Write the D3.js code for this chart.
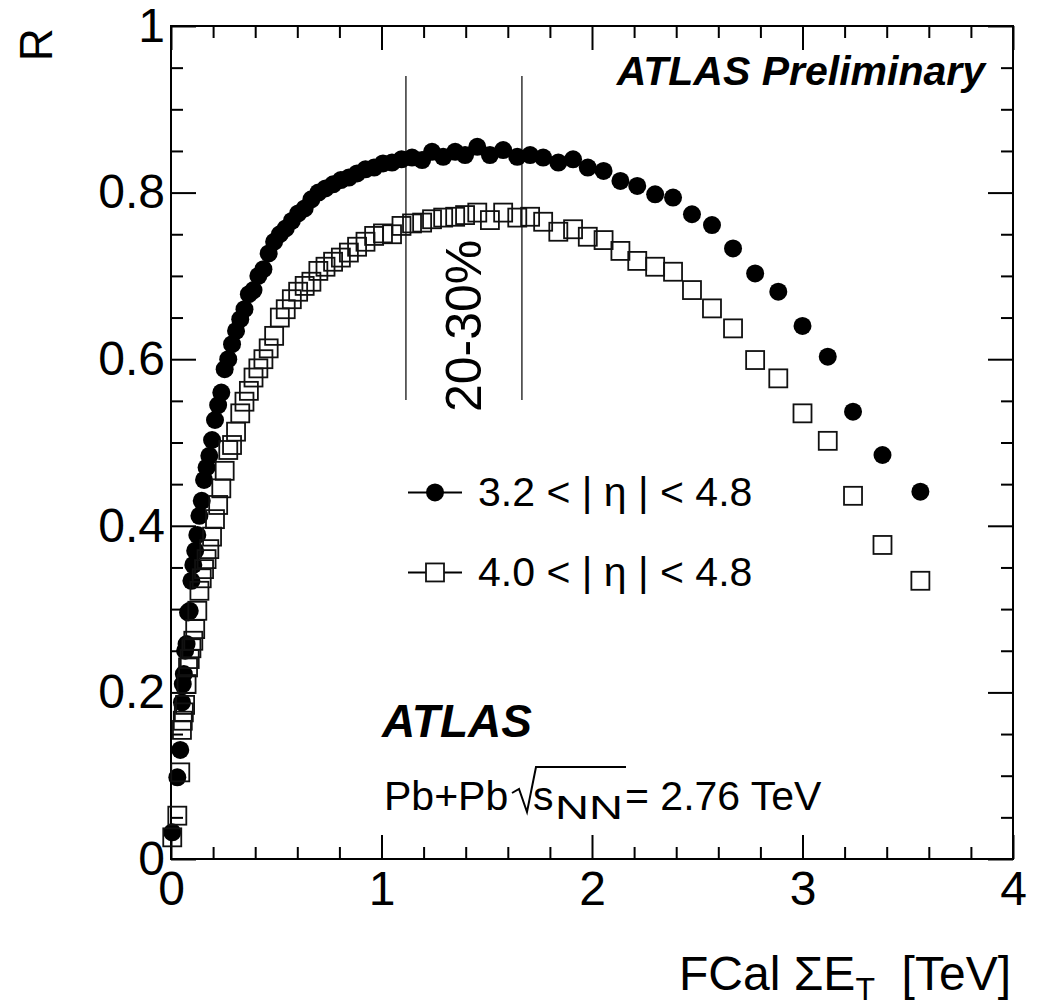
<!DOCTYPE html>
<html>
<head>
<meta charset="utf-8">
<script src="https://cdn.jsdelivr.net/npm/d3@7"></script>
<style>
  body { margin: 0; background: #fff; }
  text { font-family: "Liberation Sans", Arial, Helvetica, sans-serif; fill: #000; }
</style>
</head>
<body>
<svg id="chart" width="1047" height="1006"></svg>
<script>
// FCal sum ET [TeV] per 1% centrality bin (0-1% first)
var fcalEt = [3.56, 3.38, 3.24, 3.12, 3.00, 2.885, 2.775, 2.67, 2.57, 2.475,
  2.385, 2.30, 2.215, 2.135, 2.055, 1.98, 1.91, 1.84, 1.768, 1.706,
  1.645, 1.578, 1.515, 1.455, 1.397, 1.35, 1.293, 1.24, 1.193, 1.145,
  1.095, 1.05, 1.007, 0.965, 0.924, 0.884, 0.845, 0.807, 0.770, 0.734,
  0.700, 0.667, 0.635, 0.604, 0.574, 0.545, 0.517, 0.490, 0.464, 0.439,
  0.415, 0.392, 0.370, 0.349, 0.329, 0.309, 0.290, 0.272, 0.255, 0.239,
  0.224, 0.209, 0.195, 0.182, 0.169, 0.157, 0.146, 0.135, 0.125, 0.115,
  0.106, 0.097, 0.089, 0.081, 0.074, 0.067, 0.061, 0.056, 0.052, 0.044,
  0.030, 0.006];
// R for 3.2<|eta|<4.8 (filled circles)
var rEta32 = [0.441, 0.485, 0.537, 0.603, 0.640, 0.681, 0.703, 0.733, 0.761, 0.774,
  0.794, 0.798, 0.808, 0.814, 0.826, 0.830, 0.840, 0.836, 0.842, 0.845,
  0.843, 0.851, 0.845, 0.855, 0.845, 0.849, 0.843, 0.849, 0.839, 0.842,
  0.840, 0.836, 0.835, 0.830, 0.828, 0.823, 0.818, 0.815, 0.810, 0.805,
  0.800, 0.792, 0.781, 0.775, 0.766, 0.757, 0.750, 0.741, 0.727, 0.708,
  0.700, 0.683, 0.678, 0.660, 0.648, 0.634, 0.618, 0.600, 0.588, 0.560,
  0.545, 0.527, 0.503, 0.484, 0.470, 0.455, 0.430, 0.412, 0.389, 0.370,
  0.353, 0.334, 0.298, 0.296, 0.258, 0.250, 0.222, 0.210, 0.188, 0.131,
  0.098, 0.032];
// R for 4.0<|eta|<4.8 (open squares)
var rEta40 = [0.334, 0.377, 0.436, 0.502, 0.535, 0.577, 0.599, 0.637, 0.661, 0.683,
  0.705, 0.711, 0.718, 0.730, 0.743, 0.747, 0.756, 0.753, 0.765, 0.771,
  0.770, 0.776, 0.767, 0.776, 0.773, 0.771, 0.770, 0.768, 0.764, 0.763,
  0.760, 0.750, 0.751, 0.748, 0.741, 0.735, 0.728, 0.722, 0.717, 0.711,
  0.706, 0.693, 0.688, 0.681, 0.672, 0.660, 0.650, 0.628, 0.613, 0.600,
  0.589, 0.578, 0.562, 0.549, 0.535, 0.513, 0.497, 0.491, 0.466, 0.445,
  0.425, 0.408, 0.387, 0.372, 0.360, 0.348, 0.337, 0.322, 0.298, 0.276,
  0.262, 0.253, 0.240, 0.230, 0.210, 0.185, 0.176, 0.166, 0.155, 0.104,
  0.052, 0.026];

var centralityEdges = [1.116, 1.667];   // 20-30% boundaries
var xMajorTicks = [0, 1, 2, 3, 4];
var xMinorTicks = [0.2, 0.4, 0.6, 0.8, 1.2, 1.4, 1.6, 1.8, 2.2, 2.4, 2.6, 2.8, 3.2, 3.4, 3.6, 3.8];
var yMajorTicks = [0, 0.2, 0.4, 0.6, 0.8, 1];
var yMinorTicks = [0.05, 0.1, 0.15, 0.25, 0.3, 0.35, 0.45, 0.5, 0.55, 0.65, 0.7, 0.75, 0.85, 0.9, 0.95];
var legendLabels = ["3.2 < | \u03b7 | < 4.8", "4.0 < | \u03b7 | < 4.8"];

var svg = d3.select("#chart");
var mLeft = 171, mRight = 1013, mTop = 26, mBottom = 859;

var x = d3.scaleLinear().domain([0, 4]).range([mLeft, mRight]);
var y = d3.scaleLinear().domain([0, 1]).range([mBottom, mTop]);

var points = fcalEt.map(function(d, i) { return {et: d, r32: rEta32[i], r40: rEta40[i]}; });

//// axes: ticks on all four sides, pointing inward
function styleAxis(g) {
  g.select(".domain").remove();
  g.selectAll("line").attr("stroke", "#000").attr("stroke-width", 2);
  g.selectAll("text").attr("font-size", 48).attr("font-family", "Liberation Sans, Arial, sans-serif").attr("fill", "#000");
}

svg.append("g").attr("transform", "translate(0," + mBottom + ")")
  .call(d3.axisBottom(x).tickValues(xMajorTicks).tickSize(-24).tickPadding(12).tickFormat(d3.format("d")))
  .call(styleAxis);
svg.append("g").attr("transform", "translate(0," + mBottom + ")")
  .call(d3.axisBottom(x).tickValues(xMinorTicks).tickSize(-12).tickFormat(""))
  .call(styleAxis);
svg.append("g").attr("transform", "translate(0," + mTop + ")")
  .call(d3.axisTop(x).tickValues(xMajorTicks).tickSize(-24).tickFormat(""))
  .call(styleAxis);
svg.append("g").attr("transform", "translate(0," + mTop + ")")
  .call(d3.axisTop(x).tickValues(xMinorTicks).tickSize(-12).tickFormat(""))
  .call(styleAxis);

svg.append("g").attr("transform", "translate(" + mLeft + ",0)")
  .call(d3.axisLeft(y).tickValues(yMajorTicks).tickSize(-25).tickPadding(6).tickFormat(function(d) { return d == 0 || d == 1 ? d3.format("d")(d) : d3.format(".1f")(d); }))
  .call(styleAxis);
svg.append("g").attr("transform", "translate(" + mLeft + ",0)")
  .call(d3.axisLeft(y).tickValues(yMinorTicks).tickSize(-12).tickFormat(""))
  .call(styleAxis);
svg.append("g").attr("transform", "translate(" + mRight + ",0)")
  .call(d3.axisRight(y).tickValues(yMajorTicks).tickSize(-25).tickFormat(""))
  .call(styleAxis);
svg.append("g").attr("transform", "translate(" + mRight + ",0)")
  .call(d3.axisRight(y).tickValues(yMinorTicks).tickSize(-12).tickFormat(""))
  .call(styleAxis);

// frame
svg.append("rect")
  .attr("x", mLeft).attr("y", mTop)
  .attr("width", mRight - mLeft).attr("height", mBottom - mTop)
  .attr("fill", "none").attr("stroke", "#000").attr("stroke-width", 2);

// axis titles
svg.append("text")
  .attr("transform", "translate(52," + (mTop + 2) + ") rotate(-90)")
  .attr("text-anchor", "end").attr("font-size", 46)
  .text("R");

var xt = svg.append("text")
  .attr("x", mRight - 2).attr("y", 990)
  .attr("text-anchor", "end").attr("font-size", 48);
xt.append("tspan").text("FCal \u03a3E");
xt.append("tspan").attr("font-size", 32).attr("dy", 10).text("T");
xt.append("tspan").attr("dy", -10).text("\u00a0\u00a0[TeV]");

//// 20-30% centrality band
svg.append("g").selectAll("line")
  .data(centralityEdges)
  .enter().append("line")
  .attr("x1", d => x(d)).attr("x2", d => x(d))
  .attr("y1", y(0.94)).attr("y2", y(0.551))
  .attr("stroke", "#333").attr("stroke-width", 1.5);

svg.append("text")
  .attr("transform", "translate(" + (x(d3.mean(centralityEdges)) + 17) + "," + y(0.64) + ") rotate(-90)")
  .attr("text-anchor", "middle").attr("font-size", 50)
  .text("20-30%");

//// data markers
svg.append("g").selectAll("circle")
  .data(points)
  .enter().append("circle")
  .attr("cx", d => x(d.et))
  .attr("cy", d => y(d.r32))
  .attr("r", 9)
  .attr("fill", "#000");

svg.append("g").selectAll("rect")
  .data(points)
  .enter().append("rect")
  .attr("x", d => x(d.et) - 9)
  .attr("y", d => y(d.r40) - 9)
  .attr("width", 18).attr("height", 18)
  .attr("fill", "none").attr("stroke", "#111").attr("stroke-width", 1.8);

//// legend
var legend = svg.append("g");
var legendY = [y(0.44), y(0.344)];
legend.selectAll("line")
  .data(legendY)
  .enter().append("line")
  .attr("x1", 408).attr("x2", 462)
  .attr("y1", d => d).attr("y2", d => d)
  .attr("stroke", "#000").attr("stroke-width", 2);
legend.append("circle").attr("cx", 435).attr("cy", legendY[0]).attr("r", 9).attr("fill", "#000");
legend.append("rect").attr("x", 426).attr("y", legendY[1] - 9).attr("width", 18).attr("height", 18)
  .attr("fill", "#fff").attr("stroke", "#111").attr("stroke-width", 1.8);
legend.selectAll("text")
  .data(legendLabels)
  .enter().append("text")
  .attr("x", 478).attr("y", (d, i) => legendY[i] + 14)
  .attr("font-size", 41)
  .text(d => d);

//// labels
svg.append("text")
  .attr("x", 985).attr("y", 85)
  .attr("text-anchor", "end").attr("font-size", 41)
  .attr("font-weight", "bold").attr("font-style", "italic")
  .text("ATLAS Preliminary");

svg.append("text")
  .attr("x", 382).attr("y", 737)
  .attr("font-size", 46)
  .attr("font-weight", "bold").attr("font-style", "italic")
  .text("ATLAS");

var pb = svg.append("g");
pb.append("text").attr("x", 384).attr("y", 810).attr("font-size", 41).text("Pb+Pb");
pb.append("path")
  .attr("d", "M512,793 L519,789 L527,812 L536,767 L626,767")
  .attr("fill", "none").attr("stroke", "#000").attr("stroke-width", 2);
pb.append("text").attr("x", 533).attr("y", 810).attr("font-size", 41).text("s");
pb.append("text").attr("x", 555).attr("y", 819).attr("font-size", 34)
  .attr("textLength", 68).attr("lengthAdjust", "spacingAndGlyphs").text("NN");
pb.append("text").attr("x", 625).attr("y", 810).attr("font-size", 41).text("= 2.76 TeV");
</script>
</body>
</html>
